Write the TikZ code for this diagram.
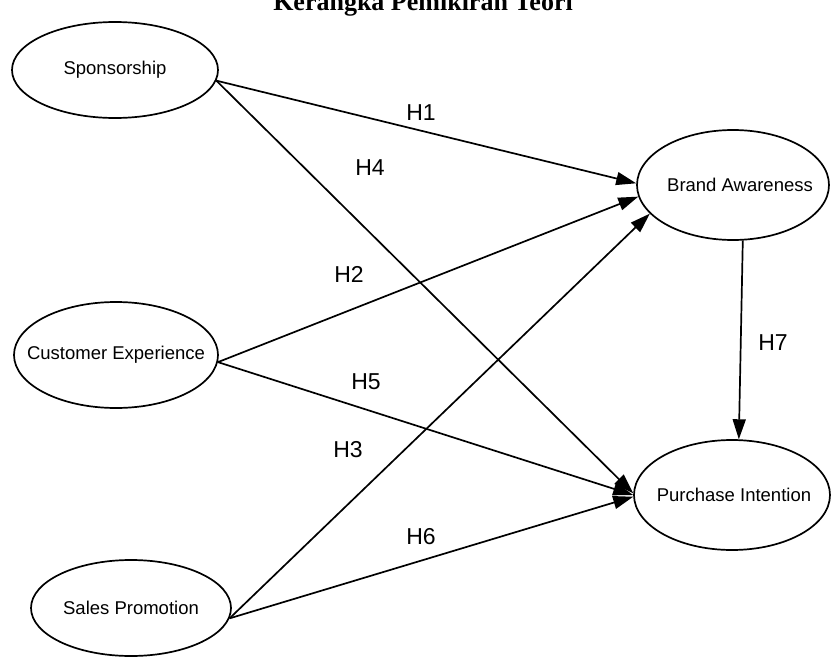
\documentclass[tikz,border=0pt]{standalone}
\usepackage{fontspec}
\setmainfont{Liberation Sans}
\newfontfamily\titlefont{Liberation Serif}
\usetikzlibrary{shapes.geometric,arrows.meta}
\begin{document}
\begin{tikzpicture}[x=1pt,y=-1pt,
  var/.style={draw, ellipse, line width=1.7pt, inner sep=0pt, font=\fontsize{18.5}{20}\selectfont},
  hyp/.style={-{Triangle[length=20pt,width=13pt]}, line width=1.7pt},
  hlab/.style={font=\fontsize{23}{24}\selectfont}]
\useasboundingbox (0,0) rectangle (831,659);
\node[font=\titlefont\bfseries\fontsize{26}{28}\selectfont, anchor=base] (title) at (423,10) {Kerangka Pemikiran Teori};
\node[var, minimum width=206pt, minimum height=96pt] (sp) at (115,70) {\makebox[0pt]{Sponsorship}};
\node[var, minimum width=204pt, minimum height=106pt] (ce) at (116,355) {\makebox[0pt]{Customer Experience}};
\node[var, minimum width=200pt, minimum height=96pt] (spr) at (131,608) {\makebox[0pt]{Sales Promotion}};
\node[var, minimum width=192pt, minimum height=110pt] (ba) at (733,185) {\makebox[0pt]{\hspace{14pt}Brand Awareness}};
\node[var, minimum width=196pt, minimum height=110pt] (pi) at (732,495) {\makebox[0pt]{\hspace{4pt}Purchase Intention}};
\draw[hyp] (sp.-6) -- (ba.179);
\draw[hyp] (sp.-6) -- (pi.179);
\draw[hyp] (ce.-4) -- (ba.187);
\draw[hyp] (ce.-4) -- (pi.180);
\draw[hyp] (spr.-6) -- (ba.199);
\draw[hyp] (spr.-6) -- (pi.181);
\draw[hyp] (ba.-80) -- (pi.83);
\node[hlab] (h1) at (421,113) {H1};
\node[hlab] (h4) at (370,168) {H4};
\node[hlab] (h2) at (349,274) {H2};
\node[hlab] (h5) at (366,382) {H5};
\node[hlab] (h3) at (348,450) {H3};
\node[hlab] (h6) at (421,537) {H6};
\node[hlab] (h7) at (773,343) {H7};
\end{tikzpicture}
\end{document}
